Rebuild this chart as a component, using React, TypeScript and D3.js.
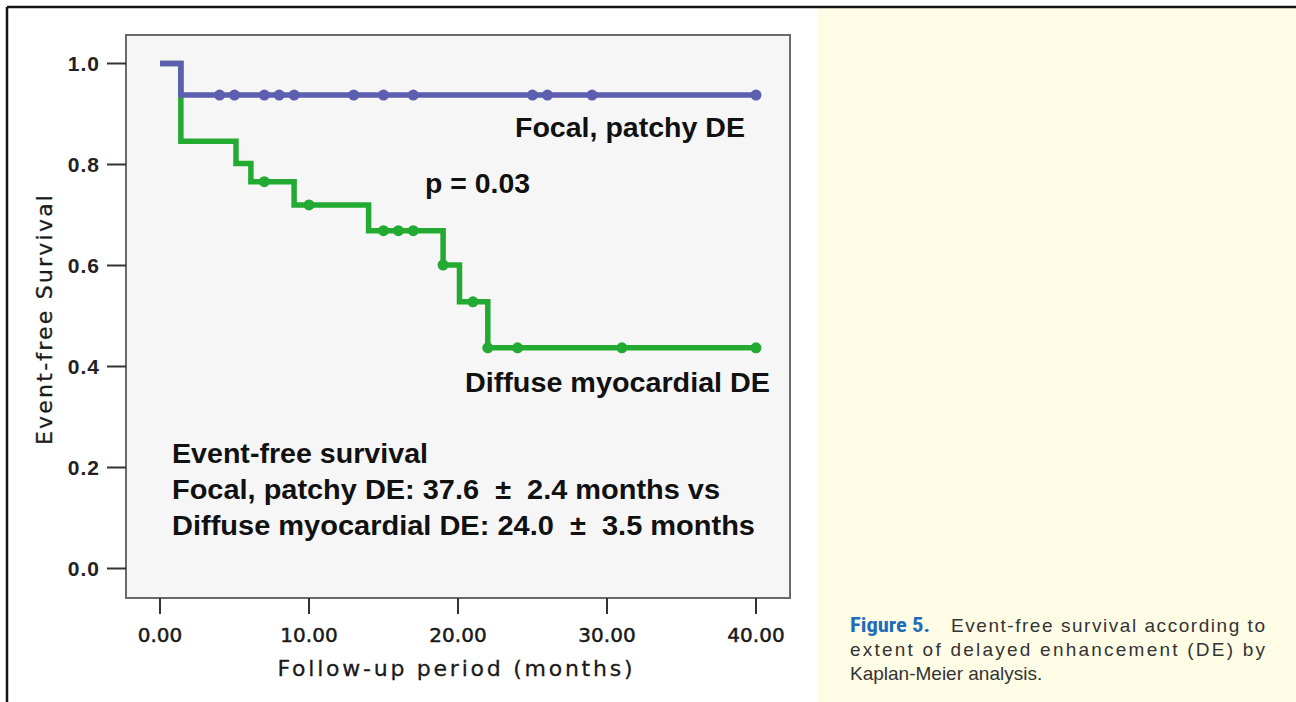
import React from "react";
import * as d3 from "d3";

// Kaplan-Meier steps
const blueTimes = [0, 1.4, 40];
const blueSurv = [1.0, 0.9375, 0.9375];
const blueCensor = [4, 5, 7, 8, 9, 13, 15, 17, 25, 26, 29, 40];

const greenTimes = [0, 1.4, 5.1, 6.1, 9.0, 14.0, 19.0, 20.1, 22.0, 40];
const greenSurv = [1.0, 0.846, 0.802, 0.766, 0.72, 0.669, 0.601, 0.528, 0.437, 0.437];
const greenCensor = [7, 10, 15, 16, 17, 19, 21, 22, 24, 31, 40];

const yTicks = [0, 0.2, 0.4, 0.6, 0.8, 1.0];
const xTicks = [0, 10, 20, 30, 40];

const statLines = [
  "Event-free survival",
  "Focal, patchy DE: 37.6  \u00b1  2.4 months vs",
  "Diffuse myocardial DE: 24.0  \u00b1  3.5 months",
];
const statWidths = [256, 548, 583];

const BLUE = "#5c5eb0";
const GREEN = "#22aa33";

const W = 1296;
const H = 702;
const box = { left: 126, top: 35, right: 790, bottom: 598 };

const textStyle = {
  fontFamily: "'Liberation Sans', Arial, sans-serif",
  fontWeight: "bold" as const,
  fill: "#111",
};

// value of a step curve at time t
const stepAt = (times: number[], surv: number[], t: number) => {
  let v = surv[0];
  times.forEach((tt, i) => {
    if (tt <= t) v = surv[i];
  });
  return v;
};

export default function App() {
  const x = d3.scaleLinear().domain([0, 40]).range([160, 756]);
  const y = d3.scaleLinear().domain([0, 1]).range([568.5, 63.5]);

  const line = d3
    .line<[number, number]>()
    .x((d) => x(d[0]))
    .y((d) => y(d[1]))
    .curve(d3.curveStepAfter);

  const bluePts = blueTimes.map((t, i) => [t, blueSurv[i]] as [number, number]);
  const greenPts = greenTimes.map((t, i) => [t, greenSurv[i]] as [number, number]);

  return (
    <svg
      width={W}
      height={H}
      style={{ position: "absolute", left: 0, top: 0 }}
    >
      <rect x={0} y={0} width={W} height={H} fill="#fff" />
      {/* caption panel */}
      <rect x={818} y={8} width={W - 818} height={H - 8} fill="#fffce6" />
      {/* page frame */}
      <line x1={7} y1={7} x2={W} y2={7} stroke="#151515" strokeWidth={2.5} />
      <line x1={7} y1={7} x2={7} y2={H} stroke="#151515" strokeWidth={2.5} />

      {/* plot box */}
      <rect
        x={box.left}
        y={box.top}
        width={box.right - box.left}
        height={box.bottom - box.top}
        fill="#f6f6f6"
        stroke="#6a6a6a"
        strokeWidth={2}
      />

      {/* y axis */}
      {yTicks.map((t) => (
        <g key={"y" + t}>
          <line x1={107} x2={box.left} y1={y(t)} y2={y(t)} stroke="#333" strokeWidth={2} />
          <text
            x={100}
            y={y(t) + 7.5}
            textAnchor="end"
            fontSize={21}
            fontWeight="bold"
            fontFamily="'Liberation Sans', Arial, sans-serif"
            fill="#222"
            letterSpacing={1}
          >
            {d3.format(".1f")(t)}
          </text>
        </g>
      ))}

      {/* x axis */}
      {xTicks.map((t) => (
        <g key={"x" + t}>
          <line x1={x(t)} x2={x(t)} y1={box.bottom} y2={614} stroke="#333" strokeWidth={2} />
          <text
            x={x(t)}
            y={642}
            textAnchor="middle"
            fontSize={20}
            fontFamily="'DejaVu Sans', sans-serif"
            fill="#1a1a1a"
            stroke="#1a1a1a"
            strokeWidth={0.5}
          >
            {d3.format(".2f")(t)}
          </text>
        </g>
      ))}

      <text
        x={455}
        y={676}
        textAnchor="middle"
        fontSize={22}
        fontFamily="'DejaVu Sans', sans-serif"
        fill="#1a1a1a"
        stroke="#1a1a1a"
        strokeWidth={0.3}
        textLength={355}
      >
        Follow-up period (months)
      </text>
      <text
        transform="translate(52,320) rotate(-90)"
        textAnchor="middle"
        fontSize={22}
        fontFamily="'DejaVu Sans', sans-serif"
        fill="#1a1a1a"
        stroke="#1a1a1a"
        strokeWidth={0.3}
        textLength={250}
      >
        Event-free Survival
      </text>

      {/* curves */}
      <path d={line(greenPts) || ""} fill="none" stroke={GREEN} strokeWidth={5.5} />
      {greenCensor.map((t, i) => (
        <circle key={"gc" + i} cx={x(t)} cy={y(stepAt(greenTimes, greenSurv, t))} r={5.5} fill={GREEN} />
      ))}
      <path d={line(bluePts) || ""} fill="none" stroke={BLUE} strokeWidth={5.5} />
      {blueCensor.map((t, i) => (
        <circle key={"bc" + i} cx={x(t)} cy={y(stepAt(blueTimes, blueSurv, t))} r={5.5} fill={BLUE} />
      ))}

      {/* annotations */}
      <text x={515} y={137} fontSize={28} style={textStyle} textLength={230} lengthAdjust="spacingAndGlyphs">
        Focal, patchy DE
      </text>
      <text x={425} y={193} fontSize={27} style={textStyle} textLength={105} lengthAdjust="spacingAndGlyphs">
        p = 0.03
      </text>
      <text x={465} y={392} fontSize={28} style={textStyle} textLength={305} lengthAdjust="spacingAndGlyphs">
        Diffuse myocardial DE
      </text>
      {statLines.map((s, i) => (
        <text
          key={s}
          x={172}
          y={463 + i * 36}
          fontSize={28}
          style={textStyle}
          xmlSpace="preserve"
          textLength={statWidths[i]}
          lengthAdjust="spacingAndGlyphs"
        >
          {s}
        </text>
      ))}

      {/* caption */}
      <g fontFamily="'Liberation Sans', Arial, sans-serif" fontSize={19} fill="#333">
        <text
          x={850}
          y={632}
          fontWeight="bold"
          fill="#1e6db8"
          fontFamily="'Liberation Sans Narrow', 'Roboto Condensed', 'Liberation Sans', sans-serif"
          fontSize={21}
          textLength={80}
          lengthAdjust="spacingAndGlyphs"
        >
          Figure 5.
        </text>
        <text x={951} y={632} textLength={314}>
          Event-free survival according to
        </text>
        <text x={850} y={656} textLength={415}>
          extent of delayed enhancement (DE) by
        </text>
        <text x={850} y={680}>
          Kaplan-Meier analysis.
        </text>
      </g>
    </svg>
  );
}
